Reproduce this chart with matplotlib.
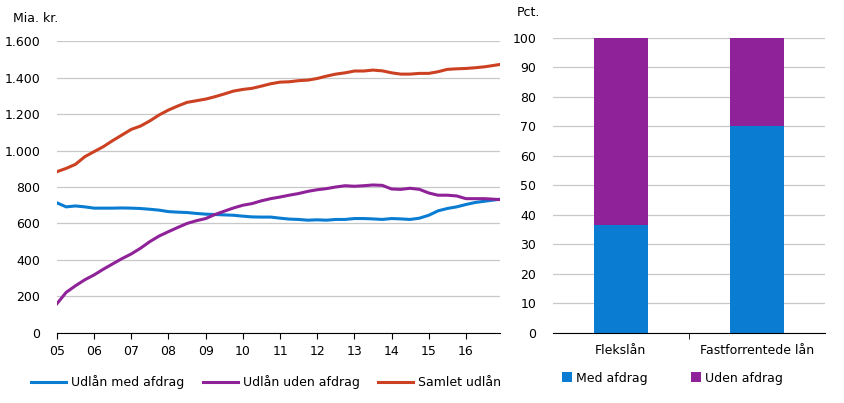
import matplotlib.pyplot as plt
import matplotlib.dates as mdates
import pandas as pd

# Quarterly readings, 2005Q1 .. 2016Q4 (last point ~ Dec 2016)
dates = pd.date_range("2005-01-01", periods=48, freq="QS").tolist()
dates[-1] = pd.Timestamp("2016-12-01")

med_afdrag = [713, 691, 696, 691, 684, 684, 684, 685, 684, 682, 678, 673,
              665, 662, 660, 655, 651, 649, 647, 645, 640, 636, 635, 635,
              629, 624, 622, 618, 620, 618, 622, 622, 627, 627, 625, 622,
              627, 625, 622, 629, 645, 669, 682, 691, 704, 715, 722, 733]
uden_afdrag = [160, 222, 258, 291, 318, 349, 378, 407, 433, 464, 500, 531,
               555, 578, 600, 615, 627, 649, 667, 685, 700, 709, 724, 736,
               745, 755, 764, 776, 785, 791, 800, 807, 804, 807, 811, 809,
               789, 787, 793, 787, 767, 755, 755, 751, 736, 736, 736, 731]
samlet = [884, 902, 924, 966, 994, 1021, 1054, 1085, 1116, 1134, 1162, 1195,
          1222, 1244, 1264, 1273, 1282, 1295, 1310, 1326, 1335, 1341, 1353, 1366,
          1375, 1377, 1383, 1386, 1395, 1408, 1419, 1426, 1436, 1436, 1441, 1437,
          1426, 1419, 1419, 1423, 1423, 1432, 1445, 1448, 1450, 1454, 1459, 1472]

bar_cats = ["Flekslån", "Fastforrentede lån"]
bar_med = [36.5, 70]
bar_uden = [63.5, 30]

blue = "#0a7dd2"
purple = "#8f2298"
red = "#cc4122"
grid = "#c8c8c8"

plt.rcParams["font.family"] = "DejaVu Sans"
plt.rcParams["font.size"] = 9

fig = plt.figure(figsize=(8.44, 4.03), dpi=100)

# Left: lines
ax1 = fig.add_axes([0.0675, 0.174, 0.525, 0.724])
ax1.plot(dates, med_afdrag, color=blue, lw=2.2, label="Udlån med afdrag")
ax1.plot(dates, uden_afdrag, color=purple, lw=2.2, label="Udlån uden afdrag")
ax1.plot(dates, samlet, color=red, lw=2.2, label="Samlet udlån")
ax1.set_ylim(0, 1600)
ax1.set_xlim(pd.Timestamp("2005-01-01"), pd.Timestamp("2016-12-01"))
ax1.set_yticks(range(0, 1601, 200))
ax1.set_yticklabels([f"{v:,}".replace(",", ".") for v in range(0, 1601, 200)])
ax1.xaxis.set_major_locator(mdates.YearLocator())
ax1.xaxis.set_major_formatter(mdates.DateFormatter("%y"))
ax1.grid(axis="y", color=grid, lw=0.9)
ax1.set_axisbelow(True)
for s in ["left", "right", "top"]:
    ax1.spines[s].set_visible(False)
ax1.spines["bottom"].set_color("black")
ax1.tick_params(axis="y", length=0, pad=12)
ax1.tick_params(axis="x", length=4, pad=5, color="black")
fig.text(0.015, 0.955, "Mia. kr.", fontsize=9, va="center")
fig.legend(loc="center", bbox_to_anchor=(0.315, 0.052), ncol=3, frameon=False,
           handlelength=2.8, columnspacing=1.5, handletextpad=0.4, fontsize=9)

# Right: stacked bars
ax2 = fig.add_axes([0.655, 0.174, 0.3225, 0.732])
x = range(len(bar_cats))
b1 = ax2.bar(x, bar_med, width=0.4, color=blue, label="Med afdrag")
b2 = ax2.bar(x, bar_uden, width=0.4, bottom=bar_med, color=purple, label="Uden afdrag")
ax2.set_xlim(-0.5, 1.5)
ax2.set_ylim(0, 100)
ax2.set_yticks(range(0, 101, 10))
ax2.set_xticks(list(x))
ax2.set_xticklabels(bar_cats)
ax2.set_xticks([0.5], minor=True)
ax2.grid(axis="y", color=grid, lw=0.9)
ax2.set_axisbelow(True)
for s in ["left", "right", "top"]:
    ax2.spines[s].set_visible(False)
ax2.tick_params(axis="y", length=0, pad=12)
ax2.tick_params(axis="x", which="major", length=0, pad=8)
ax2.tick_params(axis="x", which="minor", length=4)
fig.text(0.612, 0.97, "Pct.", fontsize=9, va="center")
fig.legend(handles=[b1, b2], loc="center", bbox_to_anchor=(0.797, 0.062), ncol=2,
           frameon=False, handlelength=0.8, handleheight=0.8, handletextpad=0.3,
           columnspacing=3.5, fontsize=9)

fig.savefig("out.png", dpi=100)
